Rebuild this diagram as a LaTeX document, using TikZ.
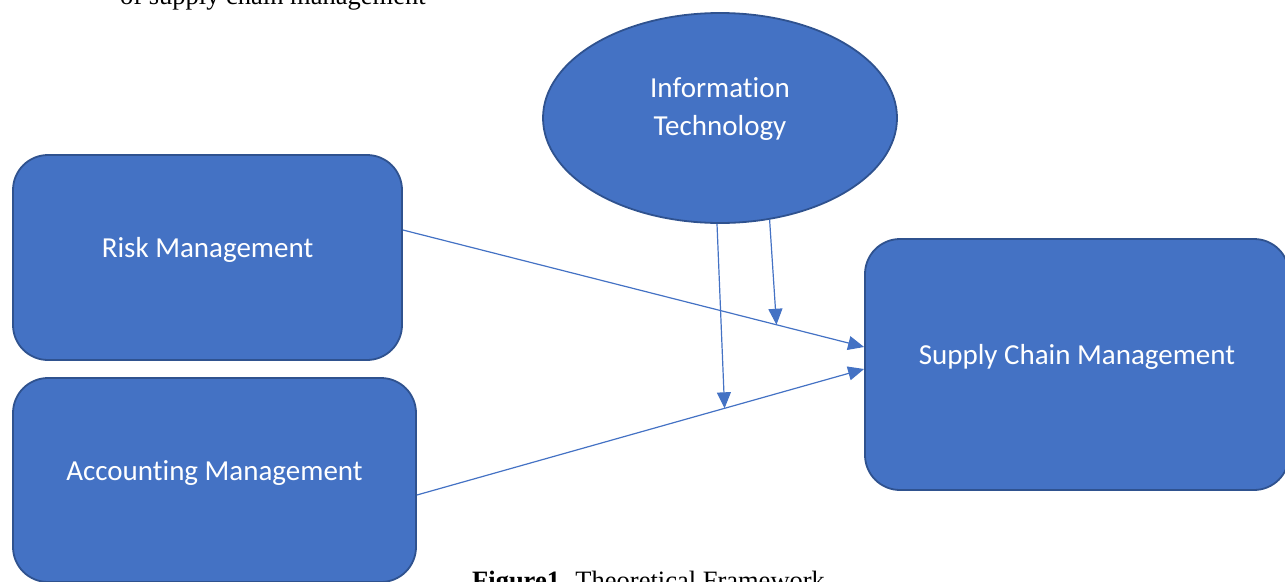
\documentclass[tikz,border=0pt]{standalone}
\usepackage{fontspec}
\setmainfont{Liberation Serif}
\newfontfamily\carl[Ligatures=NoCommon]{Carlito}
\usetikzlibrary{shapes.geometric,arrows.meta}
\definecolor{boxfill}{HTML}{4472C4}
\definecolor{boxline}{HTML}{2F528F}
\tikzset{
  box/.style={draw=boxline, fill=boxfill, line width=1.8pt, rounded corners=35pt, inner sep=0pt},
  oval/.style={ellipse, draw=boxline, fill=boxfill, line width=1.8pt, inner sep=0pt},
  boxtext/.style={text=white, font=\carl\fontsize{29}{38}\selectfont, align=center, inner sep=0pt},
  arr/.style={draw=boxfill, line width=1.2pt, -{Triangle[length=16pt,width=14pt]}},
  captext/.style={font=\fontsize{26.5}{32}\selectfont, inner sep=0pt, anchor=base west},
}
\begin{document}
\begin{tikzpicture}[x=1pt,y=-1pt]
\useasboundingbox (0,0) rectangle (1285,581);
\clip (0,0) rectangle (1285,581);
\node[captext] (toptext) at (120,4) {of supply chain management};
\node[captext] (caption) at (472,589.5) {\textbf{Figure1.} Theoretical Framework};
\node[box, minimum width=389pt, minimum height=205pt,
  label={[boxtext,yshift=7.5pt]center:Risk Management}] (risk) at (207.5,257.5) {};
\node[box, minimum width=403pt, minimum height=204pt,
  label={[boxtext,yshift=7pt]center:Accounting Management}] (acc) at (214.5,480) {};
\node[box, minimum width=424pt, minimum height=251pt,
  label={[boxtext,yshift=8pt]center:Supply Chain Management}] (scm) at (1077,364.5) {};
\node[oval, minimum width=354pt, minimum height=210pt,
  label={[boxtext,yshift=9pt]center:Information\\Technology}] (it) at (720,118) {};
\draw[arr] ([yshift=27.5pt]risk.east) -- ([yshift=17.5pt]scm.west) coordinate[pos=0.81] (m1);
\draw[arr] ([yshift=-15pt]acc.east) -- ([yshift=-4.5pt]scm.west) coordinate[pos=0.688] (m2);
\draw[arr] ([xshift=-3pt]it.south) -- (m2);
\draw[arr] (it.-64) -- (m1);
\end{tikzpicture}
\end{document}
